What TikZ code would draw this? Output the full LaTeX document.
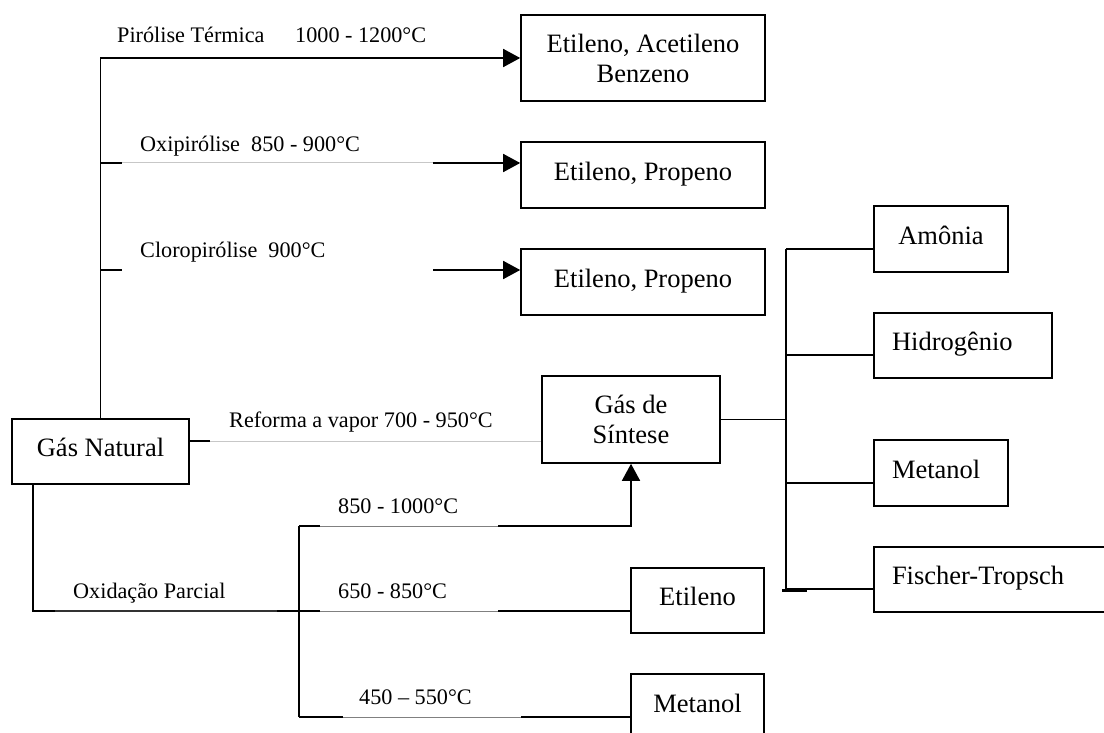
\documentclass[tikz,border=0pt]{standalone}
\usepackage{fontspec}
\setmainfont{Liberation Serif}
\usetikzlibrary{arrows.meta}
\begin{document}
\begin{tikzpicture}[x=1pt,y=-1pt,
  box/.style={draw,line width=1.6pt,inner sep=0pt,font=\fontsize{26.5}{30}\selectfont,align=center},
  one/.style={text height=18pt,text depth=7.4pt},
  lbox/.style={box,one,inner xsep=18pt,align=left},
  lbl/.style={inner sep=0pt,anchor=base west,font=\fontsize{22.2}{26}\selectfont},
  ln/.style={line width=1.6pt},
  gl/.style={line width=1pt,black!22},
  gm/.style={line width=1pt,black!50},
  gd/.style={line width=1.1pt,black!80},
  arr/.style={line width=1.6pt,-{Triangle[length=17pt,width=18pt]}}]
\useasboundingbox (0,0) rectangle (1104,733);
\clip (0,0) rectangle (1104,733);

% boxes
\node[box,minimum width=244pt,minimum height=86pt] (b1) at (643,58) {Etileno, Acetileno\\Benzeno};
\node[box,one,minimum width=244pt,minimum height=66pt] (b2) at (643,175) {Etileno, Propeno};
\node[box,one,minimum width=244pt,minimum height=66pt] (b3) at (643,282) {Etileno, Propeno};
\node[box,one,minimum width=177pt,minimum height=65pt] (gn) at (100.5,451.5) {Gás Natural};
\node[box,minimum width=178pt,minimum height=87pt] (gs) at (631,419.5) {Gás de\\Síntese};
\node[box,one,minimum width=134pt,minimum height=66pt] (am) at (941,239) {Amônia};
\node[lbox,text width=142pt,minimum height=65pt] (hi) at (963,345.5) {Hidrogênio};
\node[lbox,text width=98pt,minimum height=66pt] (me) at (941,473) {Metanol};
\node[lbox,text width=210pt,minimum height=65pt] (ft) at (997,579.5) {Fischer-Tropsch};
\node[box,one,minimum width=133pt,minimum height=65pt] (et) at (697.5,600.5) {Etileno};
\node[box,one,minimum width=133pt,minimum height=66pt] (me2) at (697.5,707) {Metanol};

% labels
\node[lbl] (l1) at (117,43) {Pirólise Térmica};
\node[lbl] (l1b) at (295,43) {1000 - 1200°C};
\node[lbl] (l2) at (140,152) {Oxipirólise\ \ 850 - 900°C};
\node[lbl] (l3) at (140,257) {Cloropirólise\ \ 900°C};
\node[lbl] (l4) at (229,427) {Reforma a vapor 700 - 950°C};
\node[lbl] (l5) at (73,598) {Oxidação Parcial};
\node[lbl] (l6) at (338,513) {850 - 1000°C};
\node[lbl] (l7) at (338,598) {650 - 850°C};
\node[lbl] (l8) at (359,704) {450 – 550°C};

% coordinates
\coordinate (o1) at (122,163);
\coordinate (o2) at (433,163);
\coordinate (c1) at (122,270);
\coordinate (c2) at (433,270);
\coordinate (r1) at (210,441);
\coordinate (x0) at (33,611);
\coordinate (x1) at (55,611);
\coordinate (x2) at (277,611);
\coordinate (x3) at (320,611);
\coordinate (x4) at (498,611);
\coordinate (v1) at (299,526);
\coordinate (v2) at (299,717);
\coordinate (u1) at (320,526);
\coordinate (u2) at (498,526);
\coordinate (w1) at (343,717);
\coordinate (w2) at (521,717);
\coordinate (bt) at (786,249);
\coordinate (bb) at (786,590);
\coordinate (bh) at (786,355);
\coordinate (bm) at (786,483);
\coordinate (bf) at (786,589);
\coordinate (k1) at (782,590);
\coordinate (k2) at (807,590);

% left trunk
\draw[arr] (gn.north) |- (b1.west);
\draw[ln] (gn.north |- o1) -- (o1);
\draw[gl] (o1) -- (o2);
\draw[arr] (o2) -- ([yshift=12pt]b2.west);
\draw[ln] (gn.north |- c1) -- (c1);
\draw[arr] (c2) -- ([yshift=12pt]b3.west);

% reforma
\draw[ln] (gn.east |- r1) -- (r1);
\draw[gl] (r1) -- (gs.west |- r1);

% oxidacao parcial
\draw[ln] (gn.south -| x0) |- (x1);
\draw[gd] (x1) -- (x2);
\draw[ln] (x2) -- (x3);
\draw[gm] (x3) -- (x4);
\draw[ln] (x4) -- (et.west |- x4);
\draw[ln] (v1) -- (v2);
\draw[ln] (v1) -- (u1);
\draw[gm] (u1) -- (u2);
\draw[arr] (u2) -| (gs.south);
\draw[ln] (v2) -- (w1);
\draw[gm] (w1) -- (w2);
\draw[ln] (w2) -- (me2.west |- w2);

% right bus
\draw[ln] (gs.east) -- (gs.east -| bt);
\draw[ln] (bt) -- (bb);
\draw[ln] (bt) -- (am.west |- bt);
\draw[ln] (bh) -- (hi.west |- bh);
\draw[ln] (bm) -- (me.west |- bm);
\draw[ln] (bf) -- (ft.west |- bf);
\draw[line width=3pt] (k1) -- (k2);
\end{tikzpicture}
\end{document}
